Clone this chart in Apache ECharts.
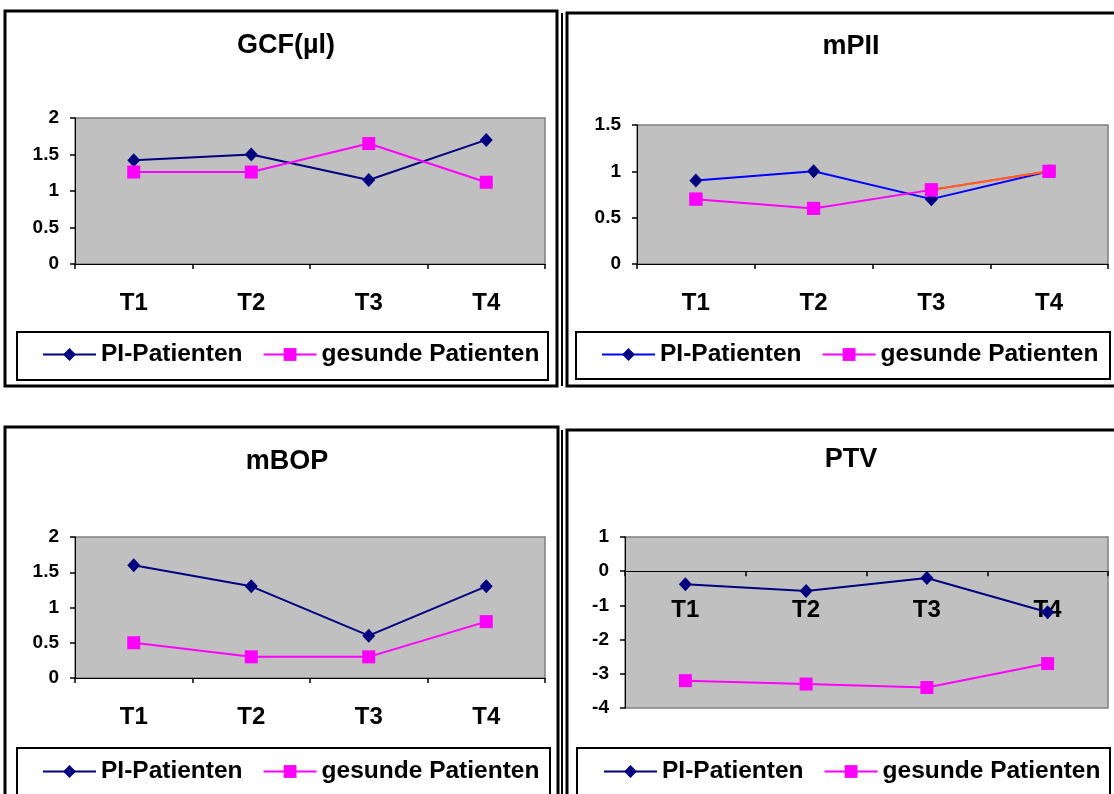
<!DOCTYPE html>
<html>
<head>
<meta charset="utf-8">
<script src="https://cdn.jsdelivr.net/npm/echarts@6/dist/echarts.min.js"></script>
<style>
html,body{margin:0;padding:0;background:#fff;width:1114px;height:794px;overflow:hidden;}
.p{position:absolute;}
</style>
</head>
<body>
<div id="c1" class="p" style="left:0;top:0;width:560px;height:400px;"></div>
<div id="c2" class="p" style="left:560px;top:0;width:554px;height:400px;"></div>
<div id="c3" class="p" style="left:0;top:400px;width:560px;height:394px;"></div>
<div id="c4" class="p" style="left:560px;top:400px;width:554px;height:394px;"></div>
<script>
// ---- data ----
const categories = ['T1', 'T2', 'T3', 'T4'];
const seriesNames = ['PI-Patienten', 'gesunde Patienten'];
const titles = ['GCF(µl)', 'mPII', 'mBOP', 'PTV'];

const gcfPI  = [1.42, 1.5, 1.15, 1.7];
const gcfGes = [1.26, 1.26, 1.65, 1.12];
const mpiiPI  = [0.9, 1.0, 0.7, 1.0];
const mpiiGes = [0.7, 0.6, 0.8, 1.0];
const mbopPI  = [1.6, 1.3, 0.6, 1.3];
const mbopGes = [0.5, 0.3, 0.3, 0.8];
const ptvPI  = [-0.38, -0.58, -0.2, -1.2];
const ptvGes = [-3.2, -3.3, -3.4, -2.7];

const gcfAxis  = [0, 2, 0.5];
const mpiiAxis = [0, 1.5, 0.5];
const mbopAxis = [0, 2, 0.5];
const ptvAxis  = [-4, 1, 1];

// ---- style ----
const FONT = '"Liberation Sans", Arial, sans-serif';
const NAVY = '#000080', MAG = '#FF00FF', BLUE = '#0000FF', ORANGE = '#FF6600';

function build(id, cfg) {
  const chart = echarts.init(document.getElementById(id), null, {renderer: 'canvas'});
  const series = [
    {
      name: seriesNames[0], type: 'line', data: cfg.pi, z: 2,
      symbol: 'diamond', symbolSize: [13, 14],
      lineStyle: {color: cfg.piLine, width: 2},
      itemStyle: {color: NAVY}
    },
    {
      name: seriesNames[1], type: 'line', data: cfg.ges, z: 3,
      symbol: 'rect', symbolSize: 13,
      lineStyle: {color: MAG, width: 2},
      itemStyle: {color: MAG}
    }
  ];
  if (cfg.orangeFrom !== undefined) {
    series.push({
      name: 'segment', type: 'line', z: 4, symbol: 'none',
      data: cfg.ges.map((v, i) => i >= cfg.orangeFrom ? v : null),
      lineStyle: {color: ORANGE, width: 2}
    });
    series.push({
      name: seriesNames[1], type: 'line', z: 5,
      data: cfg.ges, symbol: 'rect', symbolSize: 13,
      lineStyle: {width: 0, opacity: 0},
      itemStyle: {color: MAG}
    });
  }
  const a = cfg.axis;
  // position of the category axis: at value 0 inside the grid
  const zeroOffset = a[0] < 0 ? -cfg.grid[3] * (0 - a[0]) / (a[1] - a[0]) : 0;
  chart.setOption({
    animation: false,
    title: {
      text: cfg.title, left: cfg.titleX, top: cfg.titleY, textAlign: 'center',
      textStyle: {fontFamily: FONT, fontSize: 27, fontWeight: 'bold', color: '#000'}
    },
    grid: {
      left: cfg.grid[0], top: cfg.grid[1], width: cfg.grid[2], height: cfg.grid[3],
      show: true, backgroundColor: '#C0C0C0', borderColor: '#808080', borderWidth: 1.5
    },
    legend: {
      data: seriesNames, left: cfg.legend[0], top: cfg.legend[1], padding: 0,
      itemWidth: 53, itemHeight: 16, itemGap: 20,
      textStyle: {fontFamily: FONT, fontSize: 24.5, fontWeight: 'bold', color: '#000'}
    },
    xAxis: {
      type: 'category', data: categories, boundaryGap: true,
      offset: zeroOffset,
      axisLine: {onZero: false, lineStyle: {color: '#000', width: 1}},
      axisTick: {show: true, length: 5, interval: 0, lineStyle: {color: '#000', width: 1.5}},
      axisLabel: {fontFamily: FONT, fontSize: 24, fontWeight: 'bold', color: '#000', margin: cfg.catMargin}
    },
    yAxis: {
      type: 'value', min: a[0], max: a[1], interval: a[2],
      axisLine: {show: true, onZero: false, lineStyle: {color: '#000', width: 1}},
      axisTick: {show: true, length: 5, lineStyle: {color: '#000', width: 1.5}},
      splitLine: {show: false},
      axisLabel: {fontFamily: FONT, fontSize: 19, fontWeight: 'bold', color: '#000', margin: 16}
    },
    graphic: cfg.graphic,
    series: series
  });
}

build('c1', {
  title: titles[0], titleX: 281, titleY: 27,
  grid: [75, 118, 470, 146], legend: [42, 342], catMargin: 27,
  axis: gcfAxis, pi: gcfPI, ges: gcfGes, piLine: NAVY,
  graphic: [
    {type: 'rect', z: -10, shape: {x: 5, y: 11, width: 552, height: 375}, style: {fill: '#fff', stroke: '#000', lineWidth: 3}},
    {type: 'rect', z: -5, shape: {x: 17, y: 332, width: 531, height: 48}, style: {fill: '#fff', stroke: '#000', lineWidth: 2}}
  ]
});
build('c2', {
  title: titles[1], titleX: 286, titleY: 28,
  grid: [77, 125, 471, 139], legend: [41, 342], catMargin: 27,
  axis: mpiiAxis, pi: mpiiPI, ges: mpiiGes, piLine: BLUE, orangeFrom: 2,
  graphic: [
    {type: 'rect', z: -10, shape: {x: 1, y: 13, width: 2, height: 373}, style: {fill: '#000'}},
    {type: 'rect', z: -10, shape: {x: 7, y: 13, width: 600, height: 373}, style: {fill: '#fff', stroke: '#000', lineWidth: 3}},
    {type: 'rect', z: -5, shape: {x: 16, y: 332, width: 534, height: 47}, style: {fill: '#fff', stroke: '#000', lineWidth: 2}}
  ]
});
build('c3', {
  title: titles[2], titleX: 282, titleY: 43,
  grid: [75, 137, 470, 141], legend: [42, 359], catMargin: 27,
  axis: mbopAxis, pi: mbopPI, ges: mbopGes, piLine: NAVY,
  graphic: [
    {type: 'rect', z: -10, shape: {x: 5, y: 27, width: 553, height: 400}, style: {fill: '#fff', stroke: '#000', lineWidth: 3}},
    {type: 'rect', z: -5, shape: {x: 17, y: 348, width: 533, height: 60}, style: {fill: '#fff', stroke: '#000', lineWidth: 2}}
  ]
});
build('c4', {
  title: titles[3], titleX: 286, titleY: 41,
  grid: [65, 137, 483, 171], legend: [43, 359], catMargin: 27,
  axis: ptvAxis, pi: ptvPI, ges: ptvGes, piLine: NAVY,
  graphic: [
    {type: 'rect', z: -10, shape: {x: 1, y: 30, width: 2, height: 400}, style: {fill: '#000'}},
    {type: 'rect', z: -10, shape: {x: 7, y: 30, width: 600, height: 400}, style: {fill: '#fff', stroke: '#000', lineWidth: 3}},
    {type: 'rect', z: -5, shape: {x: 17, y: 348, width: 533, height: 60}, style: {fill: '#fff', stroke: '#000', lineWidth: 2}}
  ]
});
</script>
</body>
</html>
